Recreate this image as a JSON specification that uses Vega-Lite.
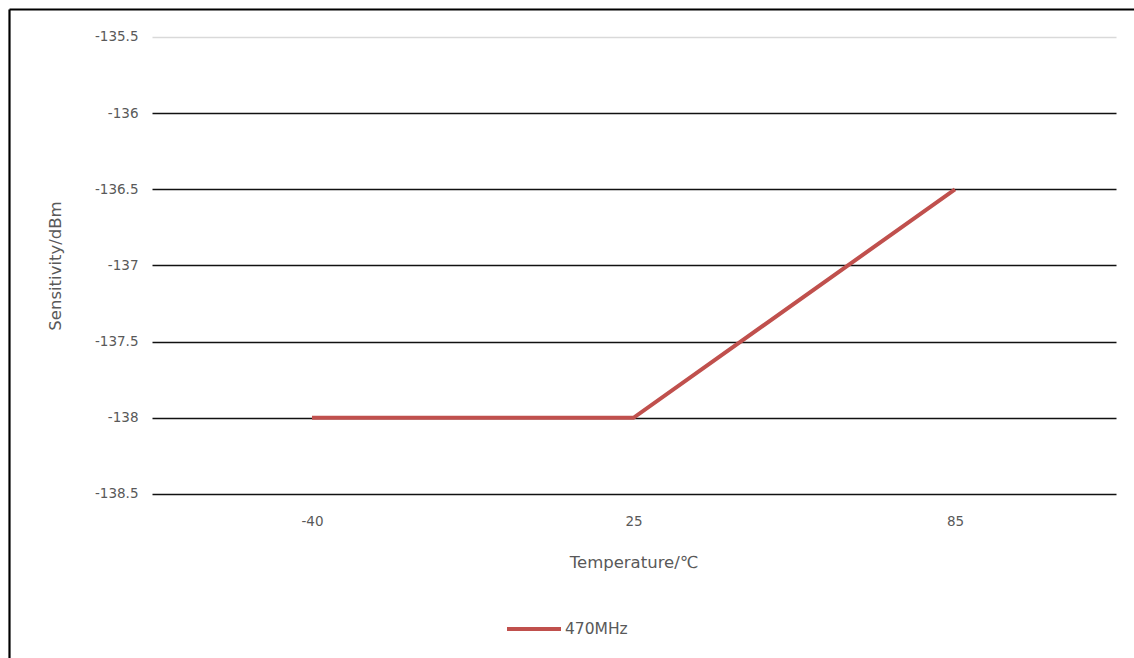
{
  "$schema": "https://vega.github.io/schema/vega-lite/v6.json",
  "width": 1125,
  "height": 649,
  "padding": {"left": 9, "top": 9, "right": 0, "bottom": 0},
  "autosize": {"type": "none"},
  "background": "#ffffff",
  "config": {
    "view": {"stroke": null},
    "font": "DejaVu Sans",
    "axis": {"labelColor": "#595959", "titleColor": "#595959", "labelFont": "DejaVu Sans", "titleFont": "DejaVu Sans", "titleFontWeight": "normal"}
  },
  "data": {"values": [
    {"temp": -40, "sens": -138, "series": "470MHz"},
    {"temp": 25, "sens": -138, "series": "470MHz"},
    {"temp": 85, "sens": -136.5, "series": "470MHz"}
  ]},
  "resolve": {"axis": {"x": "independent", "y": "independent"}},
  "layer": [
    {
      "mark": {"type": "line", "strokeWidth": 4, "strokeCap": "butt"},
      "encoding": {
        "x": {"field": "temp", "type": "ordinal",
          "scale": {"type": "point", "padding": 0.7496, "align": 0.6286},
          "axis": {"orient": "bottom", "offset": -164, "domain": false, "ticks": false, "grid": false,
            "labelAngle": 0, "labelFontSize": 13.5, "labelPadding": 20,
            "title": "Temperature/℃", "titleFontSize": 16.5, "titleX": 624.5, "titleY": 68, "titleBaseline": "middle", "titleAlign": "center"}},
        "y": {"field": "sens", "type": "quantitative",
          "scale": {"domain": [-139.5766, -135.3162], "nice": false, "zero": false},
          "axis": {"orient": "left", "offset": -143, "domain": false, "grid": false,
            "values": [-138.5, -138, -137.5, -137, -136.5, -136, -135.5],
            "labelExpr": "'' + datum.value",
            "ticks": true, "tickSize": -964, "tickWidth": 1.3,
            "tickColor": {"condition": {"test": "datum.value === -135.5", "value": "#d9d9d9"}, "value": "#111111"},
            "labelFontSize": 13.5, "labelPadding": 978, "labelAlign": "right",
            "title": "Sensitivity/dBm", "titleFontSize": 16.5, "titleX": -97, "titleY": 256.5, "titleAngle": -90, "titleBaseline": "middle", "titleAlign": "center"}},
        "color": {"field": "series", "type": "nominal",
          "scale": {"range": ["#C0504D"]},
          "legend": {"orient": "none", "legendX": 496, "legendY": 591, "title": null,
            "symbolType": "stroke", "symbolSize": 2916, "symbolStrokeWidth": 4,
            "labelFontSize": 15.5, "labelColor": "#595959", "labelFont": "DejaVu Sans", "labelOffset": 2}}
      }
    },
    {
      "mark": {"type": "line", "strokeOpacity": 0},
      "encoding": {
        "x": {"field": "temp", "type": "ordinal",
          "axis": {"orient": "top", "offset": 0, "domain": true, "domainColor": "#000000", "domainWidth": 2.2, "ticks": false, "labels": false, "grid": false, "title": null}},
        "y": {"field": "sens", "type": "quantitative",
          "axis": {"orient": "left", "offset": 0, "domain": true, "domainColor": "#000000", "domainWidth": 2.2, "ticks": false, "labels": false, "grid": false, "title": null}}
      }
    }
  ]
}
